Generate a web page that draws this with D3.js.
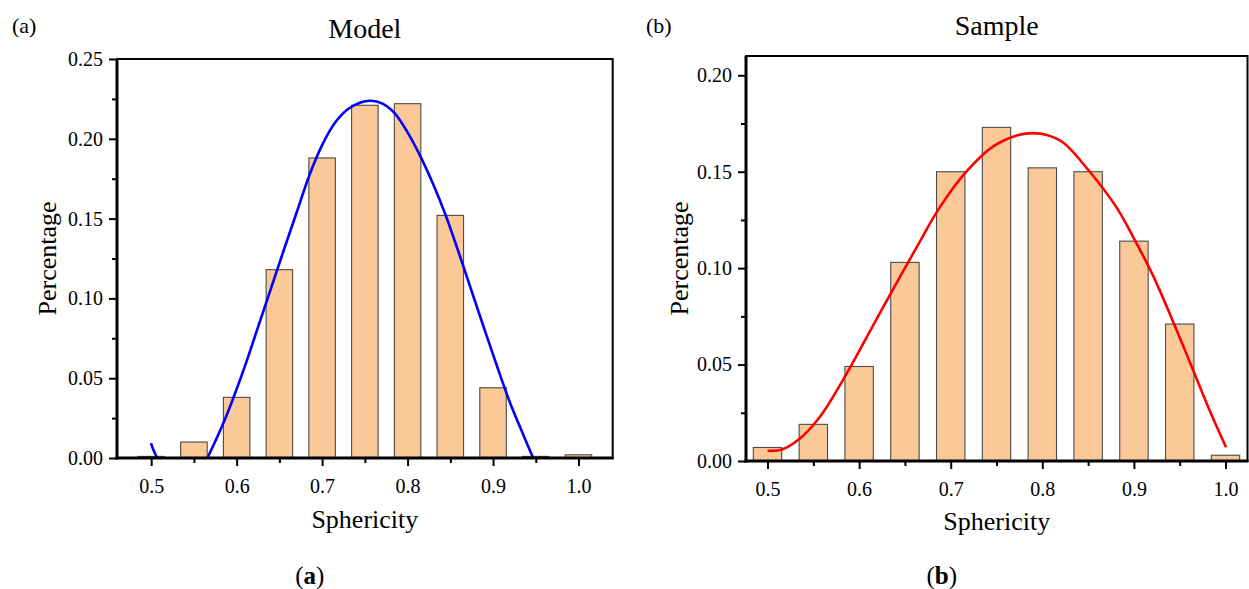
<!DOCTYPE html>
<head>
  <meta charset="utf-8">
  <script src="https://d3js.org/d3.v7.min.js"></script>
  <style>
    body { margin:0; background:#fff; }
    svg text { font-family: "Liberation Serif", "Times New Roman", Times, "Nimbus Roman", "DejaVu Serif", serif !important; fill:#000; }
  </style>
</head>

<body>
  <script>
    // sphericity bin centres
    var bins = [0.50, 0.55, 0.60, 0.65, 0.70, 0.75, 0.80, 0.85, 0.90, 0.95, 1.00];

    // bar heights
    var modelPct  = [0.001, 0.010, 0.038, 0.118, 0.188, 0.221, 0.222, 0.152, 0.044, 0.001, 0.002];
    var samplePct = [0.007, 0.019, 0.049, 0.103, 0.150, 0.173, 0.152, 0.150, 0.114, 0.071, 0.003];

    // fitted curves, points
    var modelFitSpur = [[0.4997, 0.0093], [0.503, 0.0045], [0.507, 0.0]];
    var modelFit = [
      [0.5658, 0.0], [0.575, 0.0105], [0.585, 0.0225], [0.595, 0.036], [0.610, 0.058],
      [0.625, 0.082], [0.640, 0.106], [0.655, 0.130], [0.670, 0.1535], [0.685, 0.177],
      [0.700, 0.196], [0.715, 0.210], [0.730, 0.2185], [0.745, 0.2228], [0.757, 0.2238],
      [0.770, 0.2222], [0.785, 0.216], [0.800, 0.204], [0.815, 0.189], [0.830, 0.1715],
      [0.845, 0.1515], [0.860, 0.1285], [0.875, 0.1045], [0.890, 0.0805], [0.905, 0.057],
      [0.920, 0.0345], [0.935, 0.015], [0.9469, 0.0]
    ];
    var sampleFit = [
      [0.500, 0.0053], [0.515, 0.0058], [0.535, 0.0115], [0.557, 0.0228], [0.586, 0.045],
      [0.612, 0.0675], [0.637, 0.089], [0.663, 0.111], [0.688, 0.1315], [0.717, 0.150],
      [0.746, 0.163], [0.775, 0.1692], [0.790, 0.170], [0.805, 0.169], [0.823, 0.165],
      [0.850, 0.151], [0.881, 0.1315], [0.901, 0.1145], [0.920, 0.097], [0.943, 0.072],
      [0.963, 0.049], [0.982, 0.027], [1.0006, 0.0071]
    ];

    var xMajor = [0.5, 0.6, 0.7, 0.8, 0.9, 1.0];
    var xMinor = [0.55, 0.65, 0.75, 0.85, 0.95];
    var modelYMajor = [0, 0.05, 0.10, 0.15, 0.20, 0.25];
    var modelYMinor = [0.025, 0.075, 0.125, 0.175, 0.225];
    var sampleYMajor = [0, 0.05, 0.10, 0.15, 0.20];
    var sampleYMinor = [0.025, 0.075, 0.125, 0.175];

    var width = 1249, height = 589;
    var svg = d3.select("body").append("svg")
      .attr("width", width)
      .attr("height", height);

    function panel(o) {
      var x = d3.scaleLinear().domain(o.xDomain).range([o.left, o.right]);
      var y = d3.scaleLinear().domain(o.yDomain).range([o.bottom, o.top]);
      var g = svg.append("g");
      var barW = x(0.031) - x(0);

      g.selectAll(".bar")
        .data(o.values)
        .enter().append("rect")
        .attr("x", function(d, i) { return x(bins[i]) - barW / 2; })
        .attr("y", function(d) { return y(d); })
        .attr("width", barW)
        .attr("height", function(d) { return y(0) - y(d); })
        .attr("fill", "#fbc998")
        .attr("stroke", "#4a4a4a")
        .attr("stroke-width", 1.1);

      var line = d3.line()
        .x(function(d) { return x(d[0]); })
        .y(function(d) { return y(d[1]); })
        .curve(d3.curveCatmullRom.alpha(0.5));
      o.curves.forEach(function(c) {
        g.append("path").datum(c)
          .attr("fill", "none")
          .attr("stroke", o.color)
          .attr("stroke-width", 2.6)
          .attr("d", line);
      });

      // frame
      g.append("rect")
        .attr("x", o.left).attr("y", o.top)
        .attr("width", o.right - o.left).attr("height", o.bottom - o.top)
        .attr("fill", "none").attr("stroke", "#000").attr("stroke-width", 2);
      g.append("line").attr("x1", o.left).attr("x2", o.left).attr("y1", o.top).attr("y2", o.bottom + 1.5)
        .attr("stroke", "#000").attr("stroke-width", 3);
      g.append("line").attr("x1", o.left - 1.5).attr("x2", o.right + 1).attr("y1", o.bottom).attr("y2", o.bottom)
        .attr("stroke", "#000").attr("stroke-width", 3);

      // axes
      var xa = g.append("g").attr("transform", "translate(0," + o.bottom + ")")
        .call(d3.axisBottom(x).tickValues(xMajor).tickFormat(d3.format(".1f")).tickSize(8).tickSizeOuter(0).tickPadding(13));
      var xm = g.append("g").attr("transform", "translate(0," + o.bottom + ")")
        .call(d3.axisBottom(x).tickValues(xMinor).tickFormat("").tickSize(5).tickSizeOuter(0));
      var ya = g.append("g").attr("transform", "translate(" + o.left + ",0)")
        .call(d3.axisLeft(y).tickValues(o.yMajor).tickFormat(d3.format(".2f")).tickSize(8).tickSizeOuter(0).tickPadding(6));
      var ym = g.append("g").attr("transform", "translate(" + o.left + ",0)")
        .call(d3.axisLeft(y).tickValues(o.yMinor).tickFormat("").tickSize(5).tickSizeOuter(0));
      [xa, xm, ya, ym].forEach(function(a) {
        a.attr("font-family", null);
        a.select(".domain").remove();
        a.selectAll(".tick line").attr("stroke", "#000").attr("stroke-width", 2);
        a.selectAll("text").attr("font-size", 20).attr("fill", "#000");
      });

      var cx = (o.left + o.right) / 2;
      g.append("text").attr("x", cx).attr("y", o.titleY).attr("text-anchor", "middle")
        .attr("font-size", 28).text(o.title);
      g.append("text").attr("x", o.tagX).attr("y", 33).attr("font-size", 22).text(o.tag);
      g.append("text").attr("x", cx).attr("y", o.xLabelY).attr("text-anchor", "middle")
        .attr("font-size", 26).text("Sphericity");
      g.append("text")
        .attr("transform", "translate(" + o.yLabelX + "," + ((o.top + o.bottom) / 2) + ") rotate(-90)")
        .attr("text-anchor", "middle").attr("font-size", 26).text("Percentage");
      var cap = g.append("text").attr("x", cx - 55).attr("y", 584).attr("text-anchor", "middle")
        .attr("font-size", 25);
      cap.append("tspan").text("(");
      cap.append("tspan").attr("font-weight", "bold").text(o.capLetter);
      cap.append("tspan").text(")");
    }

    panel({
      left: 117, right: 612.7, top: 59, bottom: 458,
      xDomain: [0.46, 1.04], yDomain: [0, 0.25],
      yMajor: modelYMajor, yMinor: modelYMinor,
      values: modelPct, curves: [modelFitSpur, modelFit], color: "#0000ff",
      title: "Model", titleY: 38, tag: "(a)", tagX: 12,
      xLabelY: 528, yLabelX: 56, capLetter: "a"
    });

    panel({
      left: 746, right: 1247.5, top: 56, bottom: 461,
      xDomain: [0.4765, 1.024], yDomain: [0, 0.21],
      yMajor: sampleYMajor, yMinor: sampleYMinor,
      values: samplePct, curves: [sampleFit], color: "#ff0000",
      title: "Sample", titleY: 35, tag: "(b)", tagX: 646,
      xLabelY: 530, yLabelX: 688, capLetter: "b"
    });
  </script>
</body>
